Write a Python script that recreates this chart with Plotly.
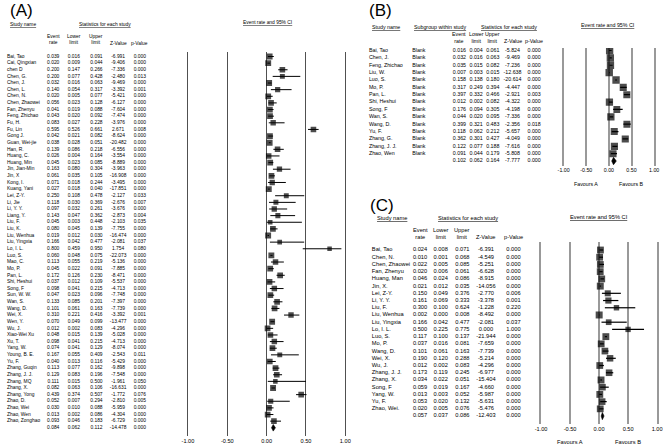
import numpy as np
import plotly.graph_objects as go

W, H = 667, 445

# ---------------- Panel A data ----------------
a_names = ["Bai, Tao", "Cai, Qingxian", "chen D", "Chen, G.", "Chen, J.", "Chen, L.", "Chen, N.",
           "Chen, Zhaowei", "Fan, Zhenyu", "Feng, Zhichao", "Fu, H.", "Fu, Lin", "Gong J.",
           "Guan, Wei-jie", "Han, R.", "Huang, C.", "Huang, Min", "Jin, Jian-Min", "Jin, X",
           "Kong, I.", "Kuang, Yani", "Lei, Z-Y.", "Li, Jie", "Li, Y. Y.", "Liang, Y.", "Liu, F.",
           "Liu, K.", "Liu, Wenhua", "Liu, Yingxia", "Lo, I. L.", "Luo, S.", "Mao, C.", "Mo, P.",
           "Pan, L.", "Shi, Heshui", "Song, F", "Sun, W. W.", "Wan, S.", "Wang, D.", "Wei, X.",
           "Wen, Y.", "Wu, J.", "Xiao-Wei Xu", "Xu, T.", "Yang, W.", "Young, B. E.", "Yu, F.",
           "Zhang, Guqin", "Zhang, J. J.", "Zhang, MQ", "Zhang, X.", "Zhang, Yong", "Zhao, D.",
           "Zhao, Wei", "Zhao, Wen", "Zhao, Zonghao", ""]
a_rate = [0.039, 0.020, 0.200, 0.200, 0.032, 0.140, 0.020, 0.056, 0.041, 0.043, 0.083, 0.595, 0.042,
          0.038, 0.139, 0.026, 0.045, 0.163, 0.061, 0.071, 0.027, 0.250, 0.118, 0.097, 0.143, 0.045,
          0.080, 0.019, 0.166, 0.800, 0.060, 0.113, 0.045, 0.172, 0.037, 0.098, 0.047, 0.133, 0.101,
          0.310, 0.070, 0.012, 0.048, 0.098, 0.074, 0.167, 0.040, 0.113, 0.129, 0.111, 0.082, 0.439,
          0.052, 0.030, 0.013, 0.093, 0.084]
a_lower = [0.016, 0.009, 0.147, 0.077, 0.016, 0.054, 0.005, 0.023, 0.019, 0.020, 0.027, 0.526, 0.021,
           0.028, 0.086, 0.004, 0.023, 0.080, 0.035, 0.018, 0.018, 0.108, 0.030, 0.032, 0.047, 0.003,
           0.045, 0.012, 0.042, 0.459, 0.048, 0.055, 0.022, 0.126, 0.012, 0.041, 0.023, 0.085, 0.061,
           0.221, 0.049, 0.002, 0.015, 0.041, 0.041, 0.055, 0.013, 0.077, 0.083, 0.015, 0.063, 0.374,
           0.007, 0.010, 0.002, 0.046, 0.062]
a_upper = [0.091, 0.044, 0.266, 0.428, 0.063, 0.317, 0.077, 0.128, 0.088, 0.092, 0.228, 0.661, 0.082,
           0.051, 0.218, 0.164, 0.085, 0.304, 0.105, 0.244, 0.040, 0.478, 0.369, 0.261, 0.362, 0.448,
           0.139, 0.030, 0.477, 0.950, 0.075, 0.219, 0.091, 0.230, 0.109, 0.215, 0.096, 0.201, 0.163,
           0.416, 0.099, 0.083, 0.139, 0.215, 0.129, 0.409, 0.116, 0.162, 0.196, 0.500, 0.106, 0.507,
           0.294, 0.088, 0.086, 0.183, 0.112]
a_z = [-6.991, -9.406, -7.336, -2.480, -9.469, -3.392, -5.421, -6.127, -7.604, -7.474, -3.976, 2.671,
       -8.624, -20.482, -6.556, -3.554, -8.889, -3.963, -16.908, -3.495, -17.851, -2.127, -2.676,
       -3.676, -2.873, -2.103, -7.755, -16.474, -2.081, 1.754, -22.073, -5.136, -7.885, -8.471,
       -5.537, -4.713, -7.748, -7.397, -7.739, -3.392, -13.477, -4.296, -5.028, -4.713, -8.074,
       -2.543, -5.429, -9.898, -7.548, -1.961, -16.631, -1.772, -2.810, -5.959, -4.304, -6.729,
       -14.478]
a_p = [0.000, 0.000, 0.000, 0.013, 0.000, 0.001, 0.000, 0.000, 0.000, 0.000, 0.000, 0.008, 0.000,
       0.000, 0.000, 0.000, 0.000, 0.000, 0.000, 0.000, 0.000, 0.033, 0.007, 0.000, 0.004, 0.035,
       0.000, 0.000, 0.037, 0.080, 0.000, 0.000, 0.000, 0.000, 0.000, 0.000, 0.000, 0.000, 0.000,
       0.001, 0.000, 0.000, 0.000, 0.000, 0.000, 0.011, 0.000, 0.000, 0.000, 0.050, 0.000, 0.076,
       0.005, 0.000, 0.000, 0.000, 0.000]

# ---------------- Panel B data ----------------
b_names = ["Bai, Tao", "Chen, J.", "Feng, Zhichao", "Liu, W.", "Luo, S.", "Mo, P.", "Pan, L.",
           "Shi, Heshui", "Song, F", "Wan, S.", "Wang, D.", "Yu, F.", "Zhang, G.", "Zhang, J. J.",
           "Zhao, Wen", ""]
b_subgroup = ["Blank", "Blank", "Blank", "Blank", "Blank", "Blank", "Blank", "Blank", "Blank",
              "Blank", "Blank", "Blank", "Blank", "Blank", "Blank", ""]
b_rate = [0.016, 0.032, 0.035, 0.007, 0.158, 0.317, 0.397, 0.012, 0.176, 0.044, 0.399, 0.118, 0.362,
          0.122, 0.091, 0.102]
b_lower = [0.004, 0.016, 0.015, 0.003, 0.138, 0.249, 0.332, 0.002, 0.094, 0.020, 0.321, 0.062, 0.301,
           0.077, 0.044, 0.062]
b_upper = [0.061, 0.063, 0.082, 0.015, 0.180, 0.394, 0.466, 0.082, 0.305, 0.095, 0.483, 0.212, 0.427,
           0.188, 0.179, 0.164]
b_z = [-5.824, -9.469, -7.236, -12.638, -20.614, -4.447, -2.921, -4.322, -4.198, -7.336, -2.356,
       -5.657, -4.049, -7.616, -5.808, -7.777]
b_p = [0.000, 0.000, 0.000, 0.000, 0.000, 0.000, 0.003, 0.000, 0.000, 0.000, 0.018, 0.000, 0.000,
       0.000, 0.000, 0.000]

# ---------------- Panel C data ----------------
c_names = ["Bai, Tao", "Chen, N.", "Chen, Zhaowei", "Fan, Zhenyu", "Huang, Man", "Jin, X.",
           "Lei, Z-Y.", "Li, Y. Y.", "Liu, F.", "Liu, Wenhua", "Liu, Yingxia", "Lo, I. L.", "Luo, S.",
           "Mo, P.", "Wang, D.", "Wei, X.", "Wu, J.", "Zhang, J. J.", "Zhang, X.", "Song, F",
           "Yang, W.", "Yu, F.", "Zhao, Wei.", ""]
c_rate = [0.024, 0.010, 0.022, 0.020, 0.046, 0.021, 0.150, 0.161, 0.300, 0.002, 0.166, 0.500, 0.117,
          0.037, 0.101, 0.190, 0.012, 0.173, 0.034, 0.059, 0.013, 0.053, 0.020, 0.057]
c_lower = [0.008, 0.001, 0.005, 0.006, 0.024, 0.012, 0.049, 0.069, 0.100, 0.000, 0.042, 0.225, 0.100,
           0.016, 0.061, 0.120, 0.002, 0.119, 0.022, 0.019, 0.003, 0.020, 0.005, 0.037]
c_upper = [0.071, 0.068, 0.085, 0.061, 0.086, 0.035, 0.376, 0.333, 0.624, 0.008, 0.477, 0.775, 0.137,
           0.081, 0.163, 0.288, 0.083, 0.245, 0.051, 0.167, 0.052, 0.132, 0.076, 0.086]
c_z = [-6.391, -4.549, -5.251, -6.628, -8.915, -14.056, -2.770, -3.378, -1.228, -8.492, -2.081, 0.000,
       -21.944, -7.659, -7.739, -5.214, -4.296, -6.977, -15.404, -4.660, -5.987, -5.631, -5.476,
       -12.403]
c_p = [0.000, 0.000, 0.000, 0.000, 0.000, 0.000, 0.006, 0.001, 0.220, 0.000, 0.037, 1.000, 0.000,
       0.000, 0.000, 0.000, 0.000, 0.000, 0.000, 0.000, 0.000, 0.000, 0.000, 0.000]

# axis tick labels
tick_vals = [-1.0, -0.5, 0.0, 0.5, 1.0]
tick_text = ["-1.00", "-0.50", "0.00", "0.50", "1.00"]
col_headers = ["Event<br>rate", "Lower<br>limit", "Upper<br>limit", "Z-Value", "p-Value"]

for arrs in [(a_names, a_rate, a_lower, a_upper, a_z, a_p),
             (b_names, b_rate, b_lower, b_upper, b_z, b_p),
             (c_names, c_rate, c_lower, c_upper, c_z, c_p)]:
    assert len(set(len(v) for v in arrs)) == 1, [len(v) for v in arrs]

FONT = "Liberation Sans, Arial, sans-serif"


def py(px):
    return 1 - px / H


def row_range(y0, dy, top_px, bot_px):
    return [(bot_px - y0) / dy, (top_px - y0) / dy]


panels = [
    dict(names=a_names, sub=None, rate=a_rate, lower=a_lower, upper=a_upper, z=a_z, p=a_p,
         y0=56.5, dy=6.63, fs=4.9, name_x=1, sub_x=None, cols=[48, 69, 92, 114, 136],
         tab_y="y", fx="x2", fy="y4", fx_key="xaxis2", fy_key="yaxis4", ty_key="yaxis",
         forest_px=(185, 345), line_px=(52, 436), line_color="#505050", line_w=1.4,
         tick_fs=5.6, msz=(6.0, 3.0, 4.0, 6.4), eb_w=1.0,
         label="(A)", label_xy=(2, 10), hdr_y=24, hdr_name_x=2, hdr_stat_x=101,
         hdr_rows=(39.5, 43), forest_hdr=(266, 23), favours=None),
    dict(names=b_names, sub=b_subgroup, rate=b_rate, lower=b_lower, upper=b_upper, z=b_z, p=b_p,
         y0=50.5, dy=7.37, fs=5.3, name_x=369, sub_x=413, cols=[461, 478, 495, 515, 537],
         tab_y="y2", fx="x3", fy="y5", fx_key="xaxis3", fy_key="yaxis5", ty_key="yaxis2",
         forest_px=(567, 659), line_px=(48, 166), line_color="#999999", line_w=1.5,
         tick_fs=5.3, msz=(7.5, 3.0, 5.5, 8.0), eb_w=1.2,
         label="(B)", label_xy=(367, 10), hdr_y=27, hdr_name_x=370, hdr_stat_x=511,
         hdr_rows=(37.5, 41), forest_hdr=(612, 25), favours=184),
    dict(names=c_names, sub=None, rate=c_rate, lower=c_lower, upper=c_upper, z=c_z, p=c_p,
         y0=250.0, dy=7.22, fs=5.7, name_x=372, sub_x=None, cols=[421, 442, 464, 488, 516],
         tab_y="y3", fx="x4", fy="y6", fx_key="xaxis4", fy_key="yaxis6", ty_key="yaxis3",
         forest_px=(544, 662), line_px=(242, 424), line_color="#999999", line_w=1.5,
         tick_fs=5.6, msz=(7.0, 3.0, 5.0, 7.0), eb_w=1.2,
         label="(C)", label_xy=(368, 205), hdr_y=218, hdr_name_x=375, hdr_stat_x=470,
         hdr_rows=(233.5, 237), forest_hdr=(603, 217), favours=442),
]

fig = go.Figure()
annotations = []
layout_axes = {
    "xaxis": dict(domain=[0, 1], range=[0, W], visible=False, fixedrange=True),
}

for P in panels:
    n = len(P["names"])
    idx = np.arange(n)
    rate = np.array(P["rate"])
    lower = np.array(P["lower"])
    upper = np.array(P["upper"])
    tfont = dict(family=FONT, size=P["fs"], color="black")

    # ---- table y-axis (full height, rows mapped to pixels) ----
    layout_axes[P["ty_key"]] = dict(domain=[0, 1], anchor="x", visible=False, fixedrange=True,
                                    range=row_range(P["y0"], P["dy"], 0, H))

    # ---- table text columns ----
    fig.add_trace(go.Scatter(x=[P["name_x"]] * n, y=idx, mode="text", text=P["names"],
                             textposition="middle right", textfont=tfont,
                             xaxis="x", yaxis=P["tab_y"], hoverinfo="skip", showlegend=False))
    if P["sub"] is not None:
        fig.add_trace(go.Scatter(x=[P["sub_x"]] * n, y=idx, mode="text", text=P["sub"],
                                 textposition="middle right", textfont=tfont,
                                 xaxis="x", yaxis=P["tab_y"], hoverinfo="skip", showlegend=False))
    columns = [P["rate"], P["lower"], P["upper"], P["z"], P["p"]]
    for cx, vals in zip(P["cols"], columns):
        fig.add_trace(go.Scatter(x=[cx] * n, y=idx, mode="text",
                                 text=[f"{v:.3f}" for v in vals],
                                 textposition="middle center", textfont=tfont,
                                 xaxis="x", yaxis=P["tab_y"], hoverinfo="skip", showlegend=False))

    # ---- forest axes ----
    x0p, x1p = P["forest_px"]
    t_px, b_px = P["line_px"]
    layout_axes[P["fx_key"]] = dict(
        domain=[x0p / W, x1p / W], range=[-1, 1], anchor=P["fy"],
        tickvals=tick_vals, ticktext=tick_text, ticks="", showline=False, zeroline=False,
        showgrid=True, gridcolor=P["line_color"], gridwidth=P["line_w"],
        tickfont=dict(family=FONT, size=P["tick_fs"], color="black"), fixedrange=True)
    layout_axes[P["fy_key"]] = dict(
        domain=[py(b_px), py(t_px)], anchor=P["fx"],
        range=row_range(P["y0"], P["dy"], t_px, b_px),
        showline=True, mirror=True, linecolor=P["line_color"], linewidth=P["line_w"],
        showgrid=False, zeroline=False, showticklabels=False, ticks="", fixedrange=True)

    # ---- study squares with CI ----
    m = n - 1
    w = upper[:m] - lower[:m]
    base, k, smin, smax = P["msz"]
    sizes = np.clip(base - k * w, smin, smax)
    fig.add_trace(go.Scatter(
        x=rate[:m], y=idx[:m], mode="markers", xaxis=P["fx"], yaxis=P["fy"],
        marker=dict(symbol="square", size=sizes, color="black", line=dict(width=0)),
        error_x=dict(type="data", symmetric=False, array=upper[:m] - rate[:m],
                     arrayminus=rate[:m] - lower[:m], thickness=P["eb_w"], width=0,
                     color="black"),
        hoverinfo="skip", showlegend=False))

    # ---- summary diamond ----
    s = m
    fig.add_trace(go.Scatter(
        x=[lower[s], rate[s], upper[s], rate[s], lower[s]],
        y=[s, s - 0.5, s, s + 0.5, s],
        mode="lines", fill="toself", fillcolor="black", line=dict(color="black", width=0.6),
        xaxis=P["fx"], yaxis=P["fy"], hoverinfo="skip", showlegend=False))

    # ---- headers ----
    hfont = dict(family=FONT, size=P["fs"], color="black")
    lx, ly = P["label_xy"]
    annotations.append(dict(x=lx, y=py(ly), xref="x", yref="paper", text=P["label"],
                            xanchor="left", yanchor="middle", showarrow=False,
                            font=dict(family=FONT, size=17, color="black")))
    annotations.append(dict(x=P["hdr_name_x"], y=py(P["hdr_y"]), xref="x", yref="paper",
                            text="<u>Study name</u>", xanchor="left", yanchor="middle",
                            showarrow=False, font=hfont))
    if P["sub"] is not None:
        annotations.append(dict(x=P["sub_x"], y=py(P["hdr_y"]), xref="x", yref="paper",
                                text="<u>Subgroup within study</u>", xanchor="left",
                                yanchor="middle", showarrow=False, font=hfont))
    annotations.append(dict(x=P["hdr_stat_x"], y=py(P["hdr_y"]), xref="x", yref="paper",
                            text="<u>Statistics for each study</u>", xanchor="center",
                            yanchor="middle", showarrow=False, font=hfont))
    two_y, one_y = P["hdr_rows"]
    for cx, htxt in zip(P["cols"], col_headers):
        yy = two_y if "<br>" in htxt else one_y
        annotations.append(dict(x=cx, y=py(yy), xref="x", yref="paper", text=htxt,
                                xanchor="center", yanchor="middle", showarrow=False,
                                font=hfont))
    fxh, fyh = P["forest_hdr"]
    annotations.append(dict(x=fxh, y=py(fyh), xref="x", yref="paper",
                            text="<u>Event rate and 95% CI</u>", xanchor="center",
                            yanchor="middle", showarrow=False, font=hfont))
    if P["favours"] is not None:
        for xv, lab in [(-0.5, "Favours A"), (0.5, "Favours B")]:
            annotations.append(dict(x=xv, y=py(P["favours"]), xref=P["fx"], yref="paper",
                                    text=lab, xanchor="center", yanchor="middle",
                                    showarrow=False,
                                    font=dict(family=FONT, size=P["fs"], color="black")))

fig.update_layout(
    width=W, height=H, margin=dict(l=0, r=0, t=0, b=0),
    paper_bgcolor="white", plot_bgcolor="rgba(0,0,0,0)",
    showlegend=False, annotations=annotations,
    **layout_axes,
)

fig.write_html("out.html", config={"displayModeBar": False},
               post_script="document.body.style.margin='0px';")
